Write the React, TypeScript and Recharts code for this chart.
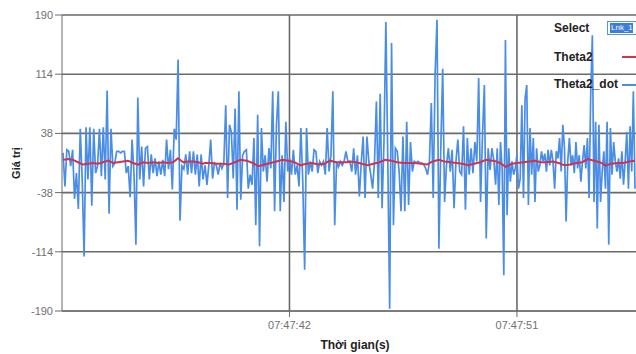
import { LineChart, Line, XAxis, YAxis, CartesianGrid } from 'recharts';

// Theta2_dot readings, split in four stretches of the time axis (seconds after 07:47:00)
const dotSeg1 = [
  13, -30, 17, 15, -4, 17, -46, -13, -59, 44, -21, -120, 46, -21, 46, -55, 44, -13, -4, 44,
  -17, 46, -21, 93, -65, 44, -4, 0, 15, 15, 13, 15, 15, -13, -4, -44, 30, -13, -105, 84,
  -21, 21, -30, 19, 21, -21, 11, -13, 6, -17, 2, -15, 4, -17, 30, -8, 17, -34, 44, 30,
  133, -74, -4, -8, 11, -15, 15, -13, 15, -15, 11, -30, 11, -21,
];
const dotSeg2 = [
  -3, -28, -3, 30, -20, 0, -3, -15, 0, -7, 0, 74, -45, 49, 40, -20, 70, -60, 92, -47,
  10, 15, 17, -33, -15, -28, 32, -80, 62, -107, 45, -11, 10, -24, 19, -7, 92, -62, 49, 92,
  -62, 10, -50, 53, -11, 6, -15, 17, -15, -3, -30, 45, -24, -137, 45, -15, 2, -11, 17, 15,
  -13, 2, -3, 2, -15, 45, -11, 10, 92, -80, 2, -5, 2, -3, 2, 15, 2,
];
const dotSeg3 = [
  2, -11, 19, -15, 10, -43, 0, 34, -45, 34, 2, -15, -33, 2, 79, -45, 89, -58, 27, 181,
  6, -187, 154, -80, 19, 15, -11, -62, 34, -62, 53, -54, 27, -11, 2, 0, 2, 0, 0, -2,
  -7, -15, 2, 77, -45, 115, 184, -110, 19, 121, -50, -3, 19, -11, 17, -58, 2, 30, -11, -15,
  47, -60, 32, -15, 19, -13, 27, 2, 109, -50, 34, 100, -97, 19, -9, 19,
];
const dotSeg4 = [
  2, -28, 19, -54, 27, -7, -144, 158, -67, 19, -24, 2, -15, -7, 10, -33, -20, 74, -45, 83,
  100, -54, 45, -15, 32, -50, 19, -11, -3, 15, 2, 12, -11, 17, -3, 17, 2, -33, 15, 6,
  32, -11, 49, 19, -75, 2, 32, -3, 10, -13, 27, -7, 10, -24, 2, 23, -7, 32, -45, 87,
  164, -50, 53, -84, 49, -50, -11, 15, -33, 53, -105, 45, -15, 27, 2, -11, 6, -20, 15, -28,
  2, 40, -33, 47, -11, 92, -33,
];

// Theta2 readings for the same stretches
const thetaSeg1 = [4, 5, 4, 1, -2, -1, 0, -1, 1, 3, 0, 1, 2, 3, 0, -2, 1, 0, 1, 0, 1, 0, 1, 6, 1, 2, 2, 1, -1];
const thetaSeg2 = [0, 0, -1, -1, -2, 1, 4, 3, 0, -4, -2, 0, 2, 4, 3, 1, -3, -1, 0, -2, -1, 3, 1, 1, 1];
const thetaSeg3 = [2, 1, -1, -3, -1, 1, 4, 3, 1, 0, 0, 0, -1, -2, 2, 4, 2, 1, 0, -1, -3, -1, 1, 4, 3];
const thetaSeg4 = [3, 0, -5, -1, 0, 1, 2, 3, 1, 1, 2, 0, -3, -2, 0, 1, 5, 3, 1, -3, -1, 0, 0, 2, 3];

// start / end time of each stretch
const segTimes: [number, number][] = [
  [33.04, 38.58],
  [38.66, 44.31],
  [44.39, 50.01],
  [50.09, 55.67],
];

const yTicks = [-190, -114, -38, 38, 114, 190];
const xTicks = [42, 51];

function build(segs: number[][]) {
  const out: { t: number; v: number }[] = [];
  segs.forEach((vals, s) => {
    const [a, b] = segTimes[s];
    vals.forEach((v, i) => {
      out.push({ t: a + ((b - a) * i) / (vals.length - 1), v });
    });
  });
  return out;
}

const dotData = build([dotSeg1, dotSeg2, dotSeg3, dotSeg4]);
const thetaData = build([thetaSeg1, thetaSeg2, thetaSeg3, thetaSeg4]);

const fmtTime = (t: number) => `07:47:${String(Math.round(t)).padStart(2, '0')}`;

const tickStyle = { fontSize: 11, fill: '#707070', fontFamily: '"Liberation Sans Narrow", "Liberation Sans", Arial, sans-serif' };
const legendText: React.CSSProperties = {
  position: 'absolute',
  left: 554,
  fontSize: 12,
  fontWeight: 700,
  color: '#222',
  fontFamily: '"Liberation Sans", Arial, sans-serif',
  lineHeight: '13px',
};

export default function App() {
  return (
    <div style={{ position: 'absolute', left: 0, top: 0, width: 636, height: 354, background: '#fff', overflow: 'hidden' }}>
      <LineChart width={636} height={354} data={dotData} margin={{ top: 15, right: 0, bottom: 0, left: 0 }}>
        <CartesianGrid stroke="#6a6a6a" strokeWidth={1.6} horizontalValues={yTicks} verticalValues={xTicks} />
        <XAxis
          dataKey="t"
          type="number"
          domain={[33, 55.71]}
          ticks={xTicks}
          tickFormatter={fmtTime}
          height={43}
          tickSize={6}
          tickMargin={4}
          stroke="#6a6a6a"
          tick={tickStyle}
          allowDataOverflow
          label={{
            value: 'Thời gian(s)',
            position: 'insideBottom',
            offset: 5,
            dx: 6,
            style: { fontSize: 12, fontWeight: 700, fill: '#222', fontFamily: '"Liberation Sans", Arial, sans-serif' },
          }}
        />
        <YAxis
          type="number"
          domain={[-190, 190]}
          ticks={yTicks}
          width={62}
          tickSize={7}
          tickMargin={2}
          stroke="#6a6a6a"
          tick={tickStyle}
          label={{
            value: 'Giá trị',
            angle: -90,
            position: 'insideLeft',
            offset: 16,
            style: { textAnchor: 'middle', fontSize: 11, fontWeight: 700, fill: '#222', fontFamily: '"Liberation Sans", Arial, sans-serif' },
          }}
        />
        <Line data={dotData} dataKey="v" type="linear" stroke="#4a8de6" strokeWidth={1.7} dot={false} isAnimationActive={false} name="Theta2_dot" />
        <Line data={thetaData} dataKey="v" type="linear" stroke="#d2324c" strokeWidth={2} dot={false} isAnimationActive={false} name="Theta2" />
      </LineChart>
      <div style={{ ...legendText, top: 22 }}>Select</div>
      <div
        style={{
          position: 'absolute',
          left: 607,
          top: 21,
          width: 30,
          height: 14,
          border: '1px solid #5b95e0',
          background: '#fff',
          boxSizing: 'border-box',
        }}
      >
        <div
          style={{
            position: 'absolute',
            left: 2,
            top: 1,
            width: 22,
            height: 10,
            background: '#3c7fd9',
            color: '#fff',
            fontSize: 8,
            lineHeight: '10px',
            fontFamily: '"Liberation Sans", Arial, sans-serif',
            paddingLeft: 1,
          }}
        >
          Lnk_1
        </div>
      </div>
      <div style={{ ...legendText, top: 51 }}>Theta2</div>
      <div style={{ position: 'absolute', left: 622, top: 56, width: 14, height: 1.5, background: '#d2324c' }} />
      <div style={{ ...legendText, top: 78 }}>Theta2_dot</div>
      <div style={{ position: 'absolute', left: 622, top: 84, width: 14, height: 1.5, background: '#4a8de6' }} />
    </div>
  );
}
